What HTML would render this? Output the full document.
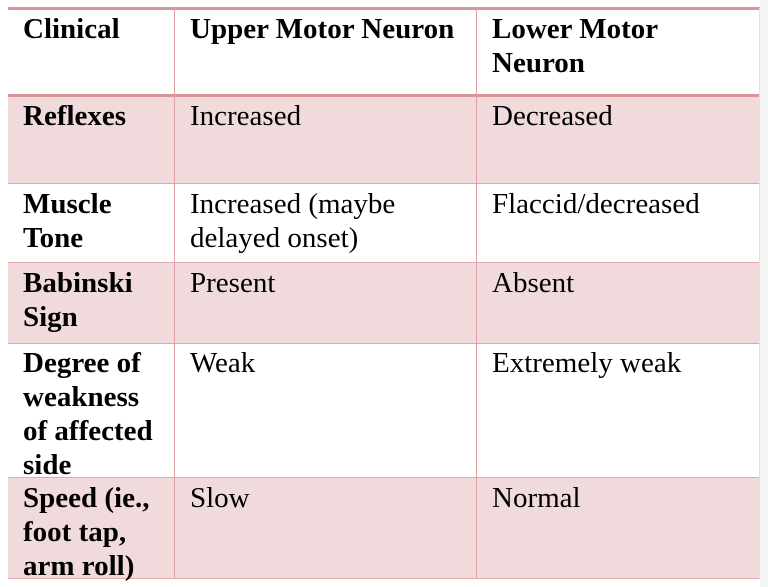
<!DOCTYPE html>
<html><head><style>
body{margin:0;width:768px;height:587px;background:#fff;position:relative;overflow:hidden;font-family:"Liberation Serif",serif;font-size:29px;color:#000}
.r{position:absolute;left:8px;width:752px;background:#f0dadb}
.h{position:absolute;left:8px;width:752px;background:#d99597}
.v{position:absolute;width:1px;background:#dea0a2}
.t{position:absolute;line-height:34px;white-space:nowrap}
b{font-weight:bold}
.edge{position:absolute;left:760px;top:0;width:8px;height:587px;background:#f4f4f4}
</style></head><body>
<div class="edge"></div>
<div class="r" style="top:95px;height:88px"></div>
<div class="r" style="top:262px;height:81px"></div>
<div class="r" style="top:477px;height:101px"></div>
<div class="h" style="top:7px;height:3px"></div>
<div class="h" style="top:94px;height:3px"></div>
<div class="h" style="top:183px;height:1px;background:#e2a9ab"></div>
<div class="h" style="top:262px;height:1px;background:#e2a9ab"></div>
<div class="h" style="top:343px;height:1px;background:#e2a9ab"></div>
<div class="h" style="top:477px;height:1px;background:#e2a9ab"></div>
<div class="h" style="top:578px;height:1px;background:#e2a9ab"></div>
<div class="v" style="left:174px;top:8px;height:571px"></div>
<div class="v" style="left:476px;top:8px;height:571px"></div>
<div class="v" style="left:759px;top:8px;height:571px;background:#f0dadb"></div>

<div class="t" style="left:23px;top:12px"><b>Clinical</b></div>
<div class="t" style="left:190px;top:12px"><b>Upper Motor Neuron</b></div>
<div class="t" style="left:492px;top:12px"><b>Lower Motor<br>Neuron</b></div>

<div class="t" style="left:23px;top:99px"><b>Reflexes</b></div>
<div class="t" style="left:190px;top:99px">Increased</div>
<div class="t" style="left:492px;top:99px">Decreased</div>

<div class="t" style="left:23px;top:187px"><b>Muscle<br>Tone</b></div>
<div class="t" style="left:190px;top:187px">Increased (maybe<br>delayed onset)</div>
<div class="t" style="left:492px;top:187px">Flaccid/decreased</div>

<div class="t" style="left:23px;top:266px"><b>Babinski<br>Sign</b></div>
<div class="t" style="left:190px;top:266px">Present</div>
<div class="t" style="left:492px;top:266px">Absent</div>

<div class="t" style="left:23px;top:346px"><b>Degree of<br>weakness<br>of affected<br>side</b></div>
<div class="t" style="left:190px;top:346px">Weak</div>
<div class="t" style="left:492px;top:346px">Extremely weak</div>

<div class="t" style="left:23px;top:481px"><b>Speed (ie.,<br>foot tap,<br>arm roll)</b></div>
<div class="t" style="left:190px;top:481px">Slow</div>
<div class="t" style="left:492px;top:481px">Normal</div>
</body></html>
